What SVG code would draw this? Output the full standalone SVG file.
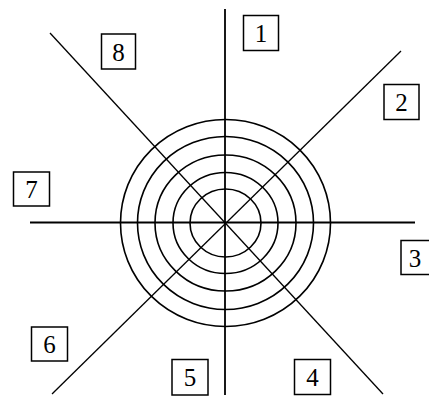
<svg xmlns="http://www.w3.org/2000/svg" width="429" height="397" viewBox="0 0 429 397">
<style>
.ring{fill:none;stroke:#000;stroke-width:1.6}
.axis{stroke:#000;stroke-width:1.8}
.diag{stroke:#000;stroke-width:1.3}
.box rect{fill:#fff;stroke:#000;stroke-width:1.5}
.box text{font-family:"Liberation Serif","Times New Roman",serif;font-size:25px;fill:#000;text-anchor:middle}
</style>
<rect width="429" height="397" fill="#fff"/>
<g id="rings">
<ellipse class="ring" cx="225.5" cy="223" rx="105" ry="103.5"/>
<ellipse class="ring" cx="225.5" cy="223" rx="88" ry="86.5"/>
<ellipse class="ring" cx="225.5" cy="223" rx="70.5" ry="68"/>
<ellipse class="ring" cx="225.5" cy="223" rx="52.5" ry="50.5"/>
<ellipse class="ring" cx="225.5" cy="223" rx="35.5" ry="34"/>
</g>
<g id="connectors">
<line class="axis" x1="225" y1="9" x2="225" y2="395"/>
<line class="axis" x1="30" y1="222.5" x2="415" y2="222.5"/>
<line class="diag" x1="50" y1="33" x2="383" y2="394"/>
<line class="diag" x1="52" y1="394" x2="401" y2="51"/>
</g>
<g id="n1" class="box"><rect x="243.5" y="15.5" width="35" height="35"/><text x="261" y="42">1</text></g>
<g id="n2" class="box"><rect x="384" y="84.5" width="35" height="35"/><text x="401.5" y="111">2</text></g>
<g id="n3" class="box"><rect x="401" y="240.5" width="35" height="34"/><text x="415" y="266.5">3</text></g>
<g id="n4" class="box"><rect x="294.5" y="359.5" width="36" height="35"/><text x="312.5" y="386">4</text></g>
<g id="n5" class="box"><rect x="172" y="359.5" width="36" height="35.5"/><text x="190" y="386">5</text></g>
<g id="n6" class="box"><rect x="31.5" y="327" width="36" height="34"/><text x="49.5" y="353">6</text></g>
<g id="n7" class="box"><rect x="13.5" y="172" width="36" height="34"/><text x="31.5" y="198">7</text></g>
<g id="n8" class="box"><rect x="101.5" y="34" width="34" height="35"/><text x="118.5" y="60.5">8</text></g>
</svg>
